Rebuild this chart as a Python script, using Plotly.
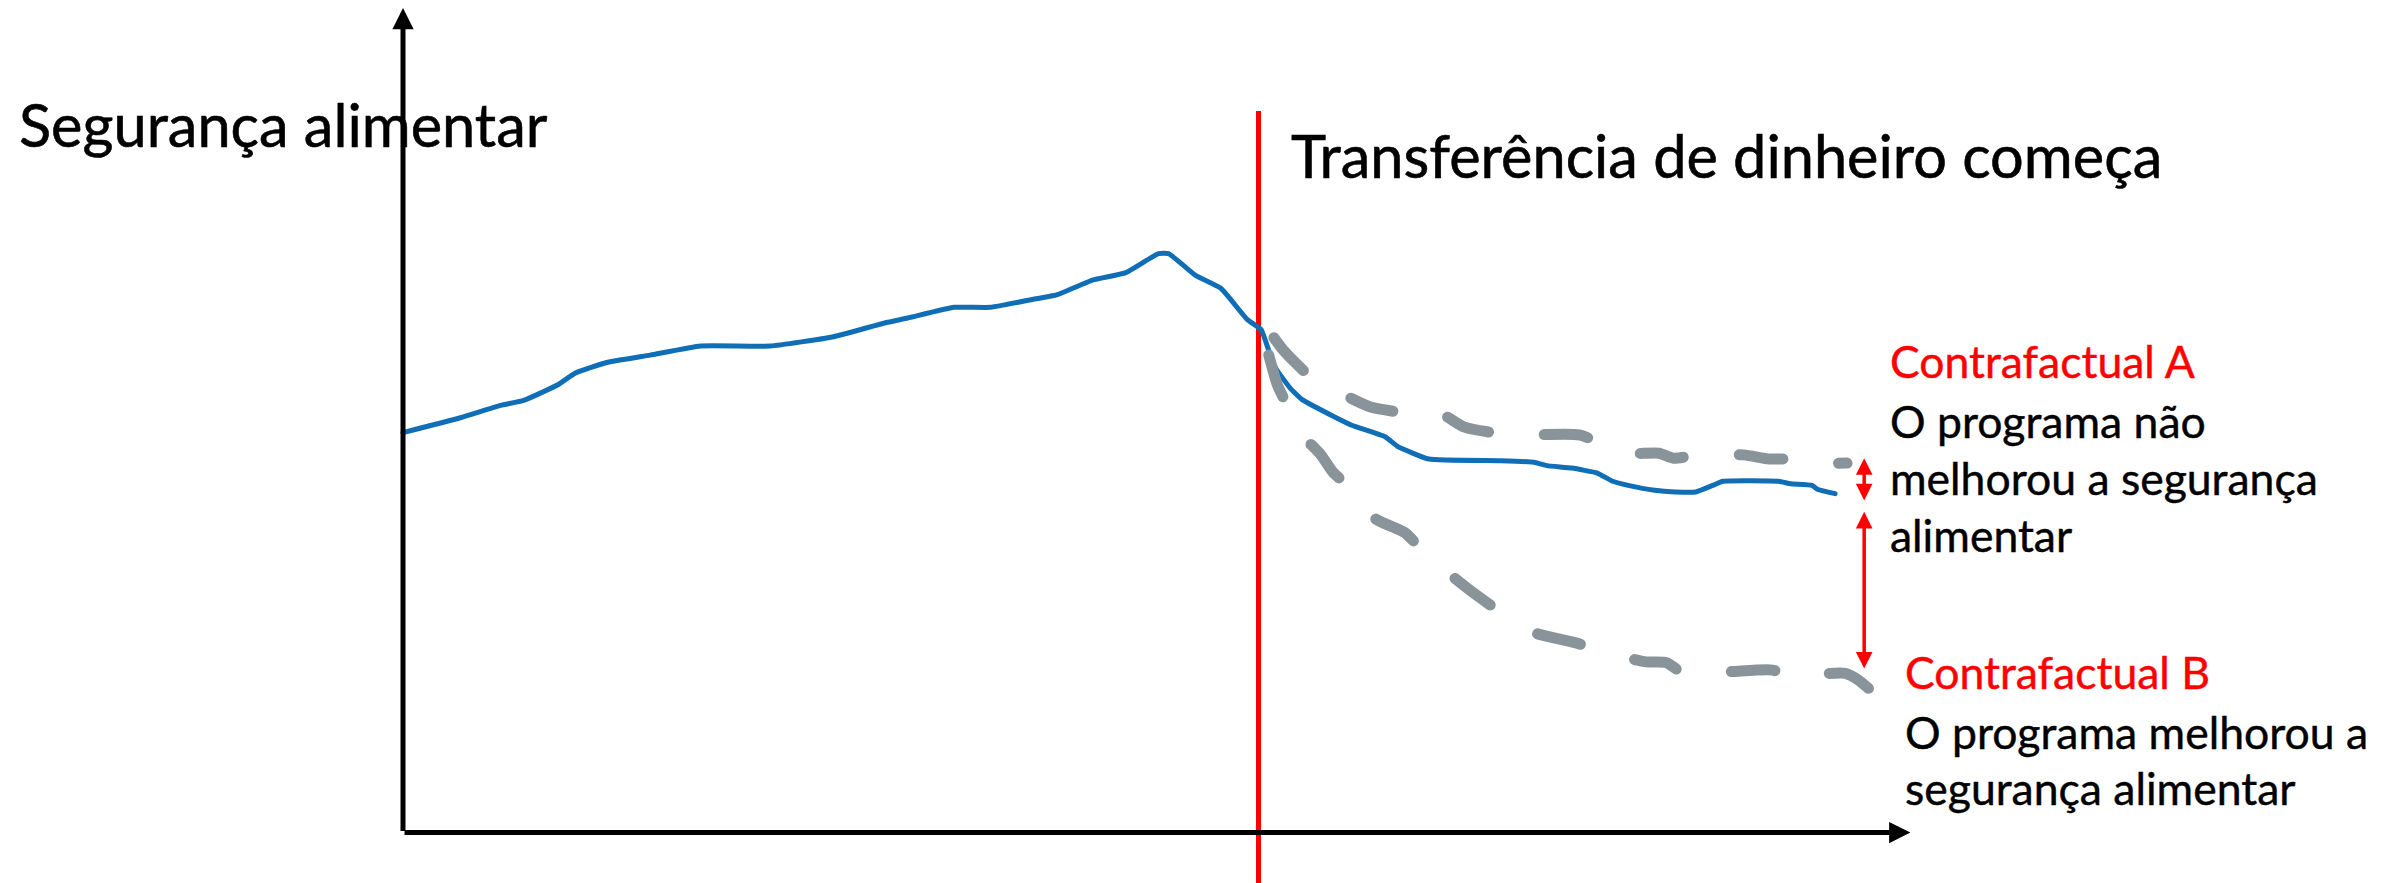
import plotly.graph_objects as go

# --- data: food-security index over time (cash transfer starts at t = 100) ---
t_observed = [0, 6.7, 11.4, 14.1, 18.1, 20.1, 23.8, 28.9, 34.8, 42.9, 50.2, 56.3, 59.0,
              64.4, 68.7, 73.8, 76.4, 80.6, 84.5, 88.3, 89.5, 92.6, 95.6, 98.7, 100.3,
              101.7, 102.2, 103.7, 105.1, 108.9, 110.9, 114.8, 116.3, 119.9, 128.3,
              132.2, 133.7, 136.6, 139.6, 141.4, 143.2, 146.3, 148.7, 151.1, 153.1,
              154.3, 160.8, 162.2, 164.7, 165.4, 167.4]
v_observed = [48.5, 50.3, 51.8, 52.4, 54.3, 55.7, 57.0, 57.9, 59.0, 59.0, 60.1, 61.8, 62.4,
              63.7, 63.7, 64.7, 65.2, 67.0, 67.9, 70.2, 70.2, 67.6, 66.0, 62.2, 61.0,
              56.9, 56.0, 53.9, 52.5, 50.4, 49.4, 48.0, 46.8, 45.3, 45.1,
              44.9, 44.5, 44.2, 43.6, 42.6, 42.1, 41.5, 41.3, 41.3, 42.1,
              42.6, 42.6, 42.3, 42.1, 41.6, 41.1]

t_cf_a = [101.8, 102.9, 105.6, 108.0, 109.5, 113.1, 117.9, 121.3, 124.0, 129.6, 137.6,
          142.4, 146.8, 148.5, 151.6, 156.7, 159.7, 162.5, 166.2, 168.8]
v_cf_a = [60.0, 58.5, 55.7, 53.8, 53.3, 51.6, 50.8, 50.8, 49.2, 48.2, 48.2,
          46.0, 46.0, 45.4, 45.8, 45.8, 45.3, 45.3, 44.8, 44.8]

t_cf_b = [101.2, 102.2, 103.2, 104.6, 107.3, 108.7, 112.3, 113.6, 117.2, 119.9, 122.5,
          124.7, 129.0, 132.0, 137.1, 140.7, 145.3, 147.7, 149.4, 154.8, 160.1, 162.8,
          165.6, 168.6, 170.1, 172.6]
v_cf_b = [57.9, 54.3, 52.1, 48.8, 45.8, 43.7, 40.3, 38.1, 36.3, 33.3, 31.2,
          29.4, 26.2, 24.3, 23.0, 21.8, 20.7, 20.6, 19.5, 19.5, 19.7, 18.7,
          19.2, 19.3, 18.5, 16.3]

t_start = 100          # cash transfer begins
t_axis_end = 176.2     # end of time axis arrow
v_axis_end = 100.0     # end of index axis arrow
v_start_label = 87.5   # top of the start marker

t_gap = 170.8
gap_a = [45.4, 40.1]   # counterfactual A vs observed
gap_b = [38.9, 19.7]   # observed vs counterfactual B

y_title = "Segurança alimentar"
start_title = "Transferência de dinheiro começa"
label_a = ["Contrafactual A", "O programa não", "melhorou a segurança", "alimentar"]
label_b = ["Contrafactual B", "O programa melhorou a", "segurança alimentar"]

# --- styling ---
W, H = 2394, 883
PX_T = 8.555      # pixels per time unit
PX_V = 8.245      # pixels per index unit
ORIGIN_X = 403    # pixel x of the time origin
ORIGIN_Y = 832.5  # pixel y of index 0

BLUE = "#0F6EB6"
GREY = "#89949A"
RED = "#FF0000"
FONT = "Lato"
BIG = 59.5
SMALL = 44.5

fig = go.Figure()

fig.add_trace(go.Scatter(x=t_observed, y=v_observed, mode="lines",
                         line=dict(color=BLUE, width=5, shape="spline", smoothing=0.4),
                         hoverinfo="skip"))
fig.add_trace(go.Scatter(x=t_cf_a, y=v_cf_a, mode="lines",
                         line=dict(color=GREY, width=11, dash="44px,56px", shape="spline",
                                   smoothing=0.6), hoverinfo="skip"))
fig.add_trace(go.Scatter(x=t_cf_b, y=v_cf_b, mode="lines",
                         line=dict(color=GREY, width=11, dash="44px,56px", shape="spline",
                                   smoothing=0.6), hoverinfo="skip"))

# start-of-programme marker
fig.add_shape(type="line", x0=t_start, x1=t_start, y0=v_start_label, y1=-20,
              line=dict(color=RED, width=5), layer="below")

annotations = []
# axes drawn as arrows
for tip in ((t_axis_end, 0), (0, v_axis_end)):
    annotations.append(dict(x=tip[0], y=tip[1], ax=0, ay=0, xref="x", yref="y",
                            axref="x", ayref="y", text="", showarrow=True,
                            arrowhead=2, arrowsize=0.85, arrowwidth=5, arrowcolor="black",
                            standoff=0))
# difference arrows
for lo_hi in (gap_a, gap_b):
    annotations.append(dict(x=t_gap, y=lo_hi[0], ax=t_gap, ay=lo_hi[1], xref="x", yref="y",
                            axref="x", ayref="y", text="", showarrow=True,
                            arrowhead=2, startarrowhead=2, arrowside="end+start",
                            arrowsize=0.95, startarrowsize=0.95, arrowwidth=3.5,
                            arrowcolor=RED, standoff=0, startstandoff=0))

# texts
annotations.append(dict(x=-45.1, y=85.9, xref="x", yref="y", text=y_title,
                        showarrow=False, xanchor="left", yanchor="middle",
                        font=dict(family=FONT, size=BIG, color="black")))
annotations.append(dict(x=103.6, y=82.2, xref="x", yref="y", text=start_title,
                        showarrow=False, xanchor="left", yanchor="middle",
                        font=dict(family=FONT, size=BIG, color="black")))

ys_a = [57.3, 50.0, 43.1, 36.2]
for i, (txt, yy) in enumerate(zip(label_a, ys_a)):
    annotations.append(dict(x=173.6, y=yy, xref="x", yref="y", text=txt,
                            showarrow=False, xanchor="left", yanchor="middle",
                            font=dict(family=FONT, size=SMALL, color=RED if i == 0 else "black")))
ys_b = [19.5, 12.2, 5.5]
for i, (txt, yy) in enumerate(zip(label_b, ys_b)):
    annotations.append(dict(x=175.3, y=yy, xref="x", yref="y", text=txt,
                            showarrow=False, xanchor="left", yanchor="middle",
                            font=dict(family=FONT, size=SMALL, color=RED if i == 0 else "black")))

fig.update_layout(
    width=W, height=H,
    margin=dict(l=0, r=0, t=0, b=0),
    paper_bgcolor="white", plot_bgcolor="white",
    showlegend=False,
    annotations=annotations,
    xaxis=dict(visible=False, range=[-ORIGIN_X / PX_T, (W - ORIGIN_X) / PX_T], fixedrange=True),
    yaxis=dict(visible=False, range=[-(H - ORIGIN_Y) / PX_V, ORIGIN_Y / PX_V], fixedrange=True),
)

# rounded ends on the dashed counterfactual lines, slightly heavier label text
post = """
var gd = document.getElementById('{plot_id}');
function touchUp(){
  gd.querySelectorAll('.scatterlayer .js-line').forEach(function(p){
    p.style.strokeLinecap = 'round'; p.style.strokeLinejoin = 'round';
  });
  gd.querySelectorAll('.annotation-text').forEach(function(t){
    var fs = parseFloat(t.style.fontSize) || 40;
    t.style.stroke = t.style.fill;
    t.style.strokeWidth = (fs > 50 ? 0.6 : 0.45) + 'px';
  });
}
touchUp();
gd.on('plotly_afterplot', touchUp);
"""

fig.write_html("out.html", config={"displayModeBar": False, "staticPlot": True}, post_script=post)
